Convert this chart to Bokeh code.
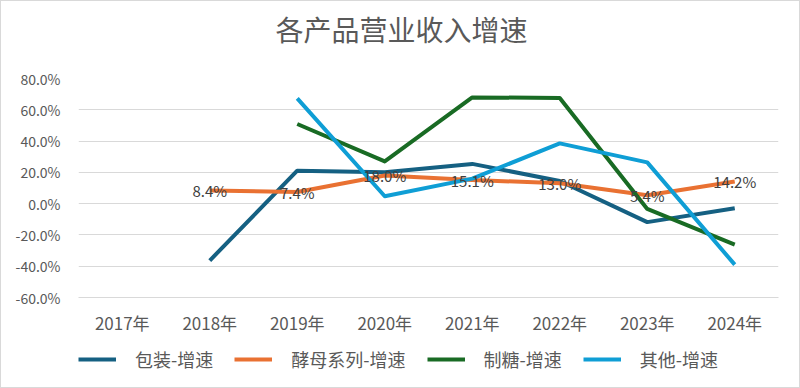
from bokeh.plotting import figure
from bokeh.layouts import column
from bokeh.models import (ColumnDataSource, FixedTicker, CustomJSTickFormatter, Legend, LegendItem,
                          Range1d, Label)
from bokeh.core.properties import value
from bokeh.embed import file_html
from bokeh.resources import INLINE

title_text = "各产品营业收入增速"
years = ["2017年", "2018年", "2019年", "2020年", "2021年", "2022年", "2023年", "2024年"]
baozhuang = [None, -36.4, 21.1, 20.0, 25.4, 14.5, -11.8, -3.0]
jiaomu = [None, 8.4, 7.4, 18.0, 15.1, 13.0, 5.4, 14.2]
zhitang = [None, None, 50.9, 27.0, 67.9, 67.6, -3.4, -26.2]
qita = [None, None, 67.3, 4.7, 16.0, 38.5, 26.4, -39.0]
series_names = ["包装-增速", "酵母系列-增速", "制糖-增速", "其他-增速"]
y_ticks = [-60, -40, -20, 0, 20, 40, 60, 80]

colors = ["#156082", "#E97132", "#196B24", "#0F9ED5"]
FONT = "Noto Sans CJK SC"
W = 798

def strip(h):
    f = figure(width=W, height=h, output_backend="svg", toolbar_location=None,
               x_range=Range1d(0, 1), y_range=Range1d(0, 1),
               x_axis_location=None, y_axis_location=None,
               min_border=0, min_border_left=0, min_border_right=0,
               min_border_top=0, min_border_bottom=0)
    f.grid.visible = False
    f.outline_line_color = None
    f.border_fill_color = "white"
    f.background_fill_color = "white"
    return f

# title strip (its frame is aligned with the chart's frame by the column layout)
p0 = strip(60)
p0.add_layout(Label(x=323, y=33, x_units="screen", y_units="screen", text=title_text,
                    text_align="center", text_baseline="middle", text_font=FONT,
                    text_font_size="28px", text_color="#595959"))

# main chart
p = figure(width=W, height=276, output_backend="svg", toolbar_location=None,
           x_range=Range1d(-0.5, len(years) - 0.5), y_range=Range1d(-60, 80),
           min_border_left=77, min_border_right=21, min_border_top=17, min_border_bottom=40)
p.outline_line_color = None
p.background_fill_color = "white"
p.border_fill_color = "white"

p.xgrid.grid_line_color = None
p.ygrid.grid_line_color = "#d9d9d9"
p.ygrid.grid_line_width = 1
p.ygrid.ticker = FixedTicker(ticks=y_ticks)

p.yaxis.ticker = FixedTicker(ticks=y_ticks)
p.yaxis.formatter = CustomJSTickFormatter(code="return tick.toFixed(1) + '%';")
p.yaxis.axis_line_color = None
p.yaxis.major_tick_line_color = None
p.yaxis.minor_tick_line_color = None
p.yaxis.major_label_text_font = FONT
p.yaxis.major_label_text_font_size = "14px"
p.yaxis.major_label_text_color = "#595959"
p.yaxis.major_label_standoff = 12

p.xaxis.ticker = FixedTicker(ticks=list(range(len(years))))
p.xaxis.major_label_overrides = {i: y for i, y in enumerate(years)}
p.xaxis.axis_line_color = "#d9d9d9"
p.xaxis.major_tick_line_color = None
p.xaxis.minor_tick_line_color = None
p.xaxis.major_label_text_font = FONT
p.xaxis.major_label_text_font_size = "17px"
p.xaxis.major_label_text_color = "#595959"
p.xaxis.major_label_standoff = 6

xs = list(range(len(years)))
for name, data, c in zip(series_names, [baozhuang, jiaomu, zhitang, qita], colors):
    pts = [(x, v) for x, v in zip(xs, data) if v is not None]
    src = ColumnDataSource(dict(x=[a for a, b in pts], y=[b for a, b in pts]))
    p.line("x", "y", source=src, line_color=c, line_width=4, line_join="round")

lab_pts = [(x, v) for x, v in zip(xs, jiaomu) if v is not None]
lab_src = ColumnDataSource(dict(x=[a for a, b in lab_pts], y=[b for a, b in lab_pts],
                                t=["%.1f%%" % b for a, b in lab_pts]))
p.text("x", "y", text="t", source=lab_src, text_align="center", text_baseline="middle",
       text_font=value(FONT), text_font_size="15px", text_color="#404040")

# legend strip (dummy renderers lie outside the visible range; only their legend glyphs show)
p2 = strip(50)
items = []
for name, c in zip(series_names, colors):
    r = p2.line(x=[-5, -4], y=[-5, -5], line_color=c, line_width=4)
    items.append(LegendItem(label=name, renderers=[r]))
legend = Legend(items=items, orientation="horizontal", location=(0, 15),
                border_line_color=None, background_fill_alpha=0,
                label_text_font=FONT, label_text_font_size="18px", label_text_color="#595959",
                glyph_width=38, label_standoff=19, spacing=21, margin=0, padding=0)
p2.add_layout(legend)

layout = column(p0, p, p2, spacing=0, styles={"border": "1px solid #d9d9d9", "background": "white"})

open("out.html", "w").write(file_html(layout, INLINE))
